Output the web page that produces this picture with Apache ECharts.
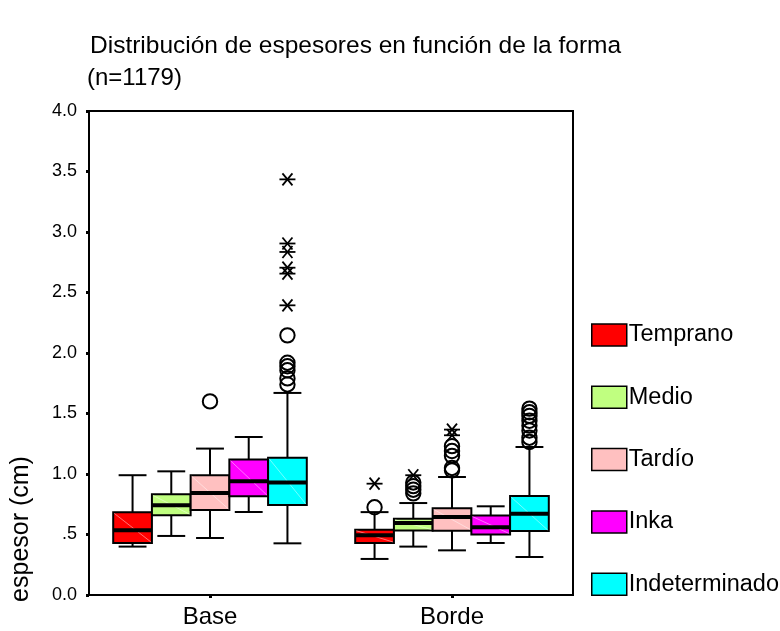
<!DOCTYPE html>
<html>
<head>
<meta charset="utf-8">
<script src="https://cdn.jsdelivr.net/npm/echarts@6/dist/echarts.min.js"></script>
<style>
  html, body { margin: 0; padding: 0; background: #fff; }
  #chart { width: 780px; height: 631px; }
</style>
</head>
<body>
<div id="chart"></div>
<script>
const categories = ['Base', 'Borde'];
const periods = ['Temprano', 'Medio', 'Tardío', 'Inka', 'Indeterminado'];
const yTicks = [0, 0.5, 1, 1.5, 2, 2.5, 3, 3.5, 4];

// Box statistics per category (Base, Borde):
// [lower whisker, Q1, median, Q3, upper whisker]
const statsTemprano = [[0.40, 0.43, 0.535, 0.683, 0.99], [0.298, 0.43, 0.493, 0.54, 0.685]];
const statsMedio    = [[0.488, 0.659, 0.741, 0.832, 1.022], [0.40, 0.533, 0.595, 0.63, 0.76]];
const statsTardio   = [[0.471, 0.703, 0.843, 0.99, 1.21], [0.369, 0.532, 0.645, 0.716, 0.975]];
const statsInka     = [[0.686, 0.816, 0.94, 1.119, 1.306], [0.43, 0.50, 0.56, 0.657, 0.733]];
const statsIndet    = [[0.427, 0.744, 0.929, 1.135, 1.67], [0.314, 0.528, 0.672, 0.818, 1.223]];

// Outliers (circles) and extreme values (stars) per category (Base, Borde)
const outTemprano = [[], [0.725]];
const extTemprano = [[], [0.92]];
const outMedio    = [[], [0.84, 0.87, 0.90, 0.93]];
const extMedio    = [[], [0.99]];
const outTardio   = [[1.60], [1.03, 1.05, 1.15, 1.19, 1.23]];
const extTardio   = [[], [1.32, 1.367]];
const outInka     = [[], []];
const extInka     = [[], []];
const outIndet    = [[2.146, 1.92, 1.89, 1.857, 1.79, 1.74], [1.265, 1.30, 1.36, 1.40, 1.44, 1.48, 1.51, 1.54]];
const extIndet    = [[3.435, 2.905, 2.835, 2.705, 2.656, 2.394], []];

const periodColors = ['#ff0000', '#c0ff80', '#ffc0c0', '#ff00ff', '#00ffff'];
const FONT = 'Liberation Sans, Arial, sans-serif';

const allStats = [statsTemprano, statsMedio, statsTardio, statsInka, statsIndet];
const allOut = [outTemprano, outMedio, outTardio, outInka, outIndet];
const allExt = [extTemprano, extMedio, extTardio, extInka, extIndet];

// fraction of the category band taken by one box (five boxes side by side)
const BOX_FRAC = 0.16;

function boxRenderer(k) {
  return function (params, api) {
    const cat = api.value(0);
    const c = api.coord([cat, 0])[0];
    const band = api.size([1, 0])[0];
    const w = band * BOX_FRAC;
    const left = c + (k - 2.5) * w;
    const mid = left + w / 2;
    const cap = w * 0.36;
    const y = i => api.coord([cat, api.value(i)])[1];
    const yLow = y(1), yQ1 = y(2), yMed = y(3), yQ3 = y(4), yHigh = y(5);
    const line = { stroke: '#000', lineWidth: 2 };
    return {
      type: 'group',
      children: [
        { type: 'line', shape: { x1: mid, y1: yHigh, x2: mid, y2: yQ3 }, style: line },
        { type: 'line', shape: { x1: mid, y1: yQ1, x2: mid, y2: yLow }, style: line },
        { type: 'line', shape: { x1: mid - cap, y1: yHigh, x2: mid + cap, y2: yHigh }, style: line },
        { type: 'line', shape: { x1: mid - cap, y1: yLow, x2: mid + cap, y2: yLow }, style: line },
        { type: 'rect', shape: { x: left, y: yQ3, width: w, height: yQ1 - yQ3 },
          style: { fill: api.visual('color'), stroke: '#000', lineWidth: 2 } },
        { type: 'line', shape: { x1: left + 1, y1: yQ3 + 1, x2: left + w - 1, y2: yQ1 - 1 },
          style: { stroke: 'rgba(255,255,255,0.45)', lineWidth: 1 } },
        { type: 'line', shape: { x1: left, y1: yMed, x2: left + w, y2: yMed },
          style: { stroke: '#000', lineWidth: 4 } }
      ]
    };
  };
}

function outlierRenderer(params, api) {
  const cat = api.value(0);
  const k = api.value(1);
  const kind = api.value(3);
  const p = api.coord([cat, api.value(2)]);
  const band = api.size([1, 0])[0];
  const w = band * BOX_FRAC;
  const x = p[0] + (k - 2) * w;
  const y = p[1];
  if (kind === 0) {
    return { type: 'circle', shape: { cx: x, cy: y, r: 7.2 },
      style: { fill: 'none', stroke: '#000', lineWidth: 2 } };
  }
  const s = { stroke: '#000', lineWidth: 1.8 };
  return {
    type: 'group',
    children: [
      { type: 'line', shape: { x1: x - 8, y1: y, x2: x + 8, y2: y }, style: s },
      { type: 'line', shape: { x1: x - 5, y1: y - 6, x2: x + 5, y2: y + 6 }, style: s },
      { type: 'line', shape: { x1: x + 5, y1: y - 6, x2: x - 5, y2: y + 6 }, style: s }
    ]
  };
}

const series = periods.map((name, k) => ({
  name: name,
  type: 'custom',
  renderItem: boxRenderer(k),
  itemStyle: { color: periodColors[k], borderColor: '#000', borderWidth: 1.5 },
  encode: { x: 0, y: [1, 2, 3, 4, 5] },
  data: allStats[k].map((s, ci) => [ci].concat(s)),
  z: 2
}));

const outlierData = [];
allOut.forEach((arr, k) => arr.forEach((vals, ci) => vals.forEach(v => outlierData.push([ci, k, v, 0]))));
allExt.forEach((arr, k) => arr.forEach((vals, ci) => vals.forEach(v => outlierData.push([ci, k, v, 1]))));

series.push({
  name: 'atípicos',
  type: 'custom',
  renderItem: outlierRenderer,
  encode: { x: 0, y: 2 },
  data: outlierData,
  z: 3
});

const chart = echarts.init(document.getElementById('chart'), null, { renderer: 'canvas' });
chart.setOption({
  animation: false,
  backgroundColor: '#fff',
  textStyle: { fontFamily: FONT, color: '#000' },
  title: [
    { text: 'Distribución de espesores en función de la forma', left: 85, top: 29,
      textStyle: { fontFamily: FONT, fontSize: 24.5, fontWeight: 'normal', color: '#000' } },
    { text: '(n=1179)', left: 82, top: 61,
      textStyle: { fontFamily: FONT, fontSize: 24, fontWeight: 'normal', color: '#000' } }
  ],
  legend: {
    data: periods,
    orient: 'vertical',
    left: 586,
    top: 318,
    itemWidth: 35,
    itemHeight: 22,
    itemGap: 38.3,
    icon: 'rect',
    itemStyle: { borderColor: '#000', borderWidth: 1.5 },
    textStyle: { fontFamily: FONT, fontSize: 23.5, color: '#000', lineHeight: 22, padding: [0, 0, 0, -3] },
    selectedMode: false
  },
  grid: {
    left: 89, right: 207, top: 111, bottom: 36,
    show: true, borderColor: '#000', borderWidth: 2, backgroundColor: 'transparent'
  },
  xAxis: {
    type: 'category',
    data: categories,
    axisLine: { show: true, lineStyle: { color: '#000', width: 2 } },
    axisTick: { show: true, alignWithLabel: true, length: 3, lineStyle: { color: '#000', width: 3 } },
    axisLabel: { fontFamily: FONT, fontSize: 24, color: '#000', margin: 10 },
    splitLine: { show: false }
  },
  yAxis: {
    type: 'value',
    min: yTicks[0],
    max: yTicks[yTicks.length - 1],
    interval: 0.5,
    axisLine: { show: true, lineStyle: { color: '#000', width: 2 } },
    axisTick: { show: true, length: 3, lineStyle: { color: '#000', width: 3 } },
    axisLabel: {
      fontFamily: FONT, fontSize: 18, color: '#000', margin: 12,
      formatter: v => (v === 0.5 ? '.5' : v.toFixed(1))
    },
    splitLine: { show: false }
  },
  graphic: [
    { type: 'text', x: 21, y: 529, rotation: Math.PI / 2,
      style: { text: 'espesor (cm)', font: '25px ' + FONT, fill: '#000',
               textAlign: 'center', textVerticalAlign: 'middle' } }
  ],
  series: series
});
</script>
</body>
</html>
